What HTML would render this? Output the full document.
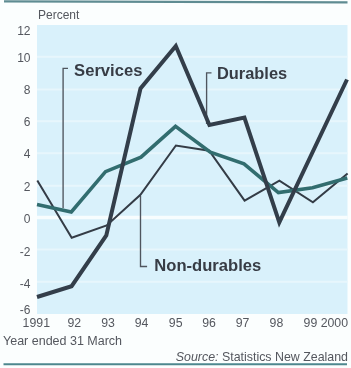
<!DOCTYPE html>
<html><head><meta charset="utf-8">
<style>
html,body{margin:0;padding:0;background:#fbfefe;}
body{width:351px;height:368px;overflow:hidden;}
svg{display:block;filter:blur(0.35px);}
text{font-family:"Liberation Sans",sans-serif;}
</style></head>
<body>
<svg width="351" height="368" viewBox="0 0 351 368">
<rect x="0" y="0" width="351" height="368" fill="#fbfefe"/>
<!-- top rule -->
<line x1="4" y1="1.3" x2="347.5" y2="2.3" stroke="#5f8c92" stroke-width="2.2"/>
<!-- plot area -->
<rect x="37" y="25" width="310.5" height="289" fill="#d9f1fb"/>
<!-- gridlines -->
<g stroke="#e7f6fc" stroke-width="2">
<line x1="37" y1="56.8" x2="347.5" y2="56.8"/>
<line x1="37" y1="89.6" x2="347.5" y2="89.6"/>
<line x1="37" y1="121.2" x2="347.5" y2="121.2"/>
<line x1="37" y1="153.2" x2="347.5" y2="153.2"/>
<line x1="37" y1="185.8" x2="347.5" y2="185.8"/>
<line x1="37" y1="249.5" x2="347.5" y2="249.5"/>
<line x1="37" y1="281.8" x2="347.5" y2="281.8"/>
<line x1="37" y1="217.5" x2="347.5" y2="217.5" stroke="#f7fdfe" stroke-width="3.5"/>
</g>
<!-- y labels -->
<g fill="#54575e" font-size="12" text-anchor="end">
<text x="30.5" y="35.3">12</text>
<text x="30.5" y="61.6">10</text>
<text x="30.5" y="93.5">8</text>
<text x="30.5" y="125.8">6</text>
<text x="30.5" y="158.4">4</text>
<text x="30.5" y="191">2</text>
<text x="30.5" y="222.8">0</text>
<text x="30.5" y="255.8">-2</text>
<text x="30.5" y="288.3">-4</text>
<text x="30.5" y="314">-6</text>
</g>
<g fill="#54575e" font-size="12.3" text-anchor="middle">
<text x="36.3" y="327">1991</text>
<text x="74.3" y="327">92</text>
<text x="108" y="327">93</text>
<text x="141.6" y="327">94</text>
<text x="175.7" y="327">95</text>
<text x="209.1" y="327">96</text>
<text x="242.6" y="327">97</text>
<text x="276.4" y="327">98</text>
<text x="310.4" y="327">99</text>
</g>
<text x="348" y="327" fill="#54575e" font-size="12.3" text-anchor="end">2000</text>
<text x="38" y="18.7" fill="#54575e" font-size="12">Percent</text>
<text x="3" y="345.2" fill="#54575e" font-size="12.5">Year ended 31 March</text>
<text x="348" y="361.2" fill="#54575e" font-size="12.4" text-anchor="end"><tspan font-style="italic">Source:</tspan> Statistics New Zealand</text>
<!-- bottom rule -->
<line x1="3.5" y1="364.2" x2="347" y2="364.2" stroke="#4d878e" stroke-width="2"/>

<!-- callouts -->
<g fill="none" stroke="#4f555e" stroke-width="1.35">
<polyline points="68,68.4 63.1,68.4 63.1,208.3"/>
<polyline points="211.5,72.9 206.6,72.9 206.6,124"/>
<polyline points="140.5,196 140.5,266.5 147.1,266.5"/>
</g>

<!-- Non-durables -->
<polyline fill="none" stroke="#343c46" stroke-width="2" stroke-linejoin="miter" points="37.3,180.4 71.7,237.8 106.7,225.4 140.4,194.8 175.9,145.5 209.2,150.7 244.6,200.6 279.4,180.6 312.9,202.3 347.6,173.6"/>
<!-- Services -->
<polyline fill="none" stroke="#326d6f" stroke-width="3.6" stroke-linejoin="miter" points="37,204.5 71.3,212 105.5,171.7 141,157.1 175.5,126.4 210.3,152.2 244,163.8 278.4,192.6 312.5,187.8 347.3,178"/>
<!-- Durables -->
<polyline fill="none" stroke="#333e4a" stroke-width="4" stroke-linejoin="miter" stroke-miterlimit="10" points="37,297 71.6,286.2 106.3,235.5 140.5,88.5 175.8,46 209.4,125 244.4,117.6 279.3,222.4 347,79.5"/>

<!-- series labels -->
<g fill="#373c45" font-size="16.4" font-weight="bold">
<text x="74.1" y="76.4" font-size="16.6">Services</text>
<text x="217" y="78.5">Durables</text>
<text x="154.3" y="270.8" font-size="16.6">Non-durables</text>
</g>
</svg>
</body></html>
